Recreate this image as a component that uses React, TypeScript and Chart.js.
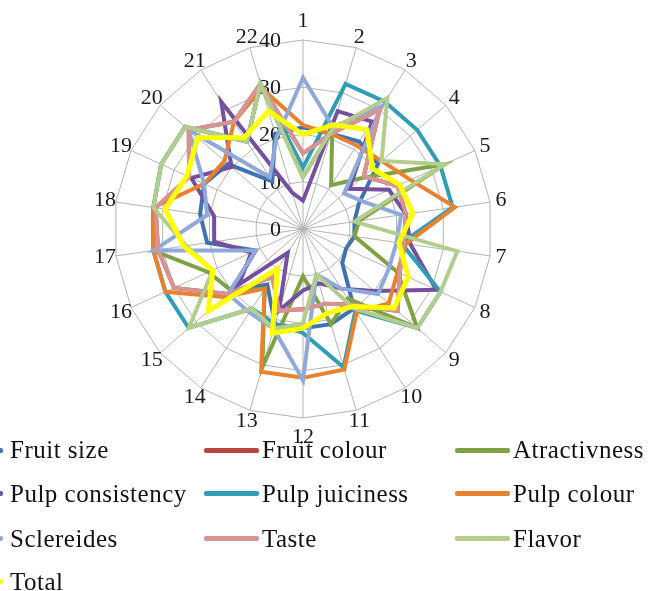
import { useEffect, useRef } from 'react';
import { Chart, registerables } from 'chart.js';

Chart.register(...registerables);

const categories = ['1', '2', '3', '4', '5', '6', '7', '8', '9', '10', '11', '12', '13', '14', '15', '16', '17', '18', '19', '20', '21', '22'];
const tickValues = [0, 10, 20, 30, 40];

const seriesNames = ['Fruit size', 'Fruit colour', 'Atractivness', 'Pulp consistency', 'Pulp juiciness', 'Pulp colour', 'Sclereides', 'Taste', 'Flavor', 'Total'];
const seriesColors = ['#3F72B0', '#B8453F', '#7FA244', '#7550A0', '#2E9DB5', '#E8822F', '#8FAADA', '#D69493', '#B2CD8C', '#FFFF00'];

const fruitSize = [21.5, 21, 22, 21, 13, 11, 11, 10, 11, 20, 21, 21, 21, 14, 20, 11, 20.5, 22, 23, 21, 12, 21];
const fruitColour = [16, 21, 30, 17, 22, 22, 21.5, 22.5, 26.5, 19, 16.5, 17, 18, 12, 21, 30, 31, 31.5, 26.5, 32, 27, 32];
const atractivness = [11, 22, 11, 16.5, 33, 12, 11, 22, 32, 17.5, 21, 10, 30.5, 15, 20, 22, 32, 32, 33, 33, 22, 32];
const pulpConsistency = [6, 26, 27, 13, 20, 22, 23, 31, 20, 15, 12, 13, 18, 6, 18, 12, 19, 19, 26, 20, 32, 8];
const pulpJuiciness = [13, 32, 32, 32, 32, 32, 21, 32, 32, 20.5, 30.5, 22, 21, 20, 32, 32, 32, 32, 33, 33, 22, 32];
const pulpColour = [22, 21, 21, 22, 25, 32.5, 22, 22, 24, 21, 31, 31.5, 31.5, 15, 22, 32, 32, 32, 23, 22, 27, 31];
const sclereides = [32, 22.5, 31, 11.5, 14, 21, 20, 20, 21, 15, 10, 32, 22, 21, 21, 11, 32, 20.5, 23, 32, 13, 20];
const taste = [16, 21, 30, 17, 22, 22, 21.5, 22.5, 26.5, 19, 16.5, 17, 18, 12, 21, 30, 31, 31.5, 26.5, 32, 27, 32];
const flavor = [11, 22, 33, 22, 33, 11, 33, 32, 32, 20, 10, 20, 22, 20, 32, 21, 25, 32, 33, 33, 22, 32];
const total = [20, 23, 25, 19.5, 22.5, 23.5, 20.5, 24.5, 25.5, 19.5, 18.5, 21, 23, 10, 26.5, 21, 25.5, 29.5, 27, 29.5, 23, 26];

const seriesData = [fruitSize, fruitColour, atractivness, pulpConsistency, pulpJuiciness, pulpColour, sclereides, taste, flavor, total];

const FONT = '"Liberation Serif", "Times New Roman", serif';

const legendTextX = [10, 262, 513];
const legendMarkerY = [450, 493, 538, 581];
const legendBaselineY = [458, 502, 547, 590];

export default function App() {
  const ref = useRef<HTMLCanvasElement>(null);

  useEffect(() => {
    if (!ref.current) return;
    const labelPlugin = {
      id: 'excelLabels',
      beforeDatasetsDraw(chart: any) {
        const s = chart.scales.r;
        const ctx = chart.ctx;
        ctx.save();
        ctx.font = `22px ${FONT}`;
        ctx.fillStyle = '#1a1a1a';
        ctx.textBaseline = 'middle';
        ctx.textAlign = 'right';
        tickValues.forEach((v) => {
          const d = s.getDistanceFromCenterForValue(v);
          ctx.fillText(String(v), s.xCenter - 22, s.yCenter - d + 1);
        });
        ctx.textAlign = 'center';
        categories.forEach((c, i) => {
          const a = s.getIndexAngle(i);
          const vertical = Math.abs(Math.cos(a)) > 0.99;
          const p = s.getPointPosition(i, s.drawingArea + (vertical ? 19 : 11));
          ctx.fillText(c, p.x, p.y);
        });
        ctx.restore();
      },
    };

    const chart = new Chart(ref.current, {
      type: 'radar',
      data: {
        labels: categories,
        datasets: seriesData.map((d, i) => ({
          label: seriesNames[i],
          data: d,
          borderColor: seriesColors[i],
          backgroundColor: 'transparent',
          fill: false,
          borderWidth: i === 9 ? 5 : 4,
          pointRadius: 0,
          order: seriesData.length - 1 - i,
        })),
      },
      options: {
        responsive: false,
        animation: false,
        layout: { padding: { left: 114, right: 159, top: 40, bottom: 173 } },
        plugins: { legend: { display: false }, tooltip: { enabled: false } },
        elements: { line: { tension: 0, borderJoinStyle: 'miter' } },
        scales: {
          r: {
            min: 0,
            max: 40,
            ticks: { display: false, stepSize: 10 },
            pointLabels: { display: false },
            grid: { color: '#b3b3b3', lineWidth: 1 },
            angleLines: { color: '#b3b3b3', lineWidth: 1 },
          },
        },
      },
      plugins: [labelPlugin],
    } as any);
    return () => chart.destroy();
  }, []);

  return (
    <div style={{ position: 'absolute', left: 0, top: 0, width: 651, height: 591, overflow: 'hidden', background: '#fff' }}>
      <canvas ref={ref} width={651} height={591} style={{ position: 'absolute', left: 0, top: 0, width: 651, height: 591 }} />
      {seriesNames.map((name, i) => {
        const col = i % 3;
        const row = Math.floor(i / 3);
        const x = legendTextX[col];
        const markerRight = col === 0 ? x - 7 : x - 3;
        return (
          <div key={name}>
            <div style={{ position: 'absolute', left: markerRight - 55, top: legendMarkerY[row] - 2, width: 55, height: 5, borderRadius: 2, background: seriesColors[i] }} />
            <div style={{ position: 'absolute', left: x, top: legendBaselineY[row] - 21, height: 25, lineHeight: '25px', fontFamily: FONT, fontSize: 25, letterSpacing: '0.5px', color: '#111', whiteSpace: 'nowrap' }}>{name}</div>
          </div>
        );
      })}
    </div>
  );
}
